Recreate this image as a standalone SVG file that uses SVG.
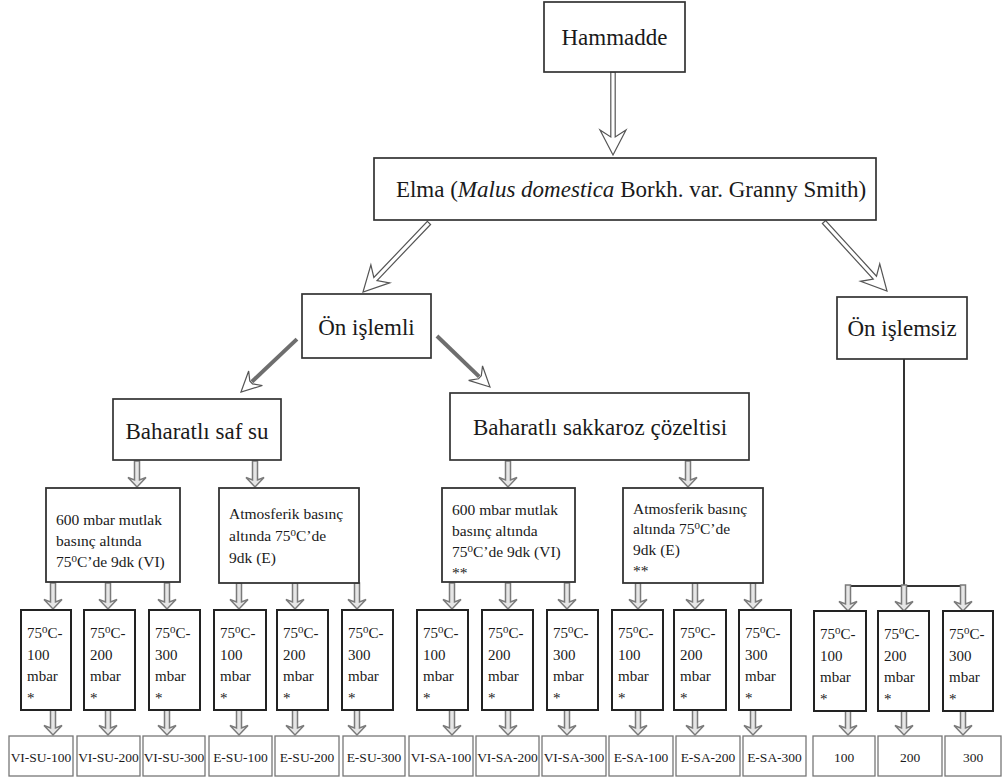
<svg xmlns="http://www.w3.org/2000/svg" xmlns:xlink="http://www.w3.org/1999/xlink" width="1003" height="782" viewBox="0 0 1003 782">
<style>
text{font-family:"Liberation Serif","Times New Roman",serif;fill:#1a1a1a}
.big{font-size:23px;text-anchor:middle}
.mid{font-size:15.5px}
.sm{font-size:15px}
.lab{font-size:13.5px;text-anchor:middle}
.sup{font-size:13.5px;font-family:"Liberation Serif","DejaVu Serif",serif}
.b1{fill:#fff;stroke:#333;stroke-width:1.7}
.b3{fill:#fff;stroke:#333;stroke-width:1.8}
.b4{fill:#fff;stroke:#222;stroke-width:2}
.b5{fill:#fff;stroke:#777;stroke-width:1.3}
.ah{fill:#fff;stroke:#555;stroke-width:1.2;stroke-linejoin:miter}
.sh{stroke:#6e6e6e;stroke-width:4;fill:none}
.ln{stroke:#333;stroke-width:2;fill:none}
.sa{fill:#e6e6e6;stroke:#7a7a7a;stroke-width:1.5}
</style>
<defs>
<path id="sa" class="sa" d="M-2.5,-26 H2.5 V-7 L9,-9.5 L0,0 L-9,-9.5 L-2.5,-7 Z"/>
<path id="hd" class="ah" d="M0,0 L-10,-20 L-2,-14 L2,-14 L10,-20 Z"/>
</defs>

<g id="connectors">
<path class="ah" transform="translate(613,155)" d="M-2.2,-83 H2.2 V-18 L13,-25 L0,0 L-13,-25 L-2.2,-18 Z"/>
<path class="ah" transform="translate(363,292) rotate(43.7)" d="M-2.2,-95.5 H2.2 V-18 L13,-25 L0,0 L-13,-25 L-2.2,-18 Z"/>
<path class="ah" transform="translate(887,291) rotate(-42.4)" d="M-2.2,-93.4 H2.2 V-18 L13,-25 L0,0 L-13,-25 L-2.2,-18 Z"/>
<g transform="translate(241,392) rotate(46.6)"><line class="sh" x1="0" y1="-77" x2="0" y2="-15"/><use xlink:href="#hd"/></g>
<g transform="translate(490,387) rotate(-46.1)"><line class="sh" x1="0" y1="-73.6" x2="0" y2="-15"/><use xlink:href="#hd"/></g>
<use xlink:href="#sa" x="137" y="487"/>
<use xlink:href="#sa" x="255" y="487"/>
<use xlink:href="#sa" x="508" y="487"/>
<use xlink:href="#sa" x="688" y="487"/>
<use xlink:href="#sa" x="53" y="609"/>
<use xlink:href="#sa" x="108" y="609"/>
<use xlink:href="#sa" x="167" y="609"/>
<use xlink:href="#sa" x="239" y="609"/>
<use xlink:href="#sa" x="295" y="609"/>
<use xlink:href="#sa" x="357" y="609"/>
<use xlink:href="#sa" x="452" y="609"/>
<use xlink:href="#sa" x="508" y="609"/>
<use xlink:href="#sa" x="567" y="609"/>
<use xlink:href="#sa" x="638" y="609"/>
<use xlink:href="#sa" x="695" y="609"/>
<use xlink:href="#sa" x="753" y="609"/>
<line class="ln" x1="904" y1="359" x2="904" y2="586"/>
<line class="ln" x1="846" y1="586" x2="964" y2="586"/>
<use xlink:href="#sa" x="848" y="611"/>
<use xlink:href="#sa" x="904" y="611"/>
<use xlink:href="#sa" x="963" y="611"/>
<use xlink:href="#sa" x="53" y="735"/>
<use xlink:href="#sa" x="108" y="735"/>
<use xlink:href="#sa" x="167" y="735"/>
<use xlink:href="#sa" x="239" y="735"/>
<use xlink:href="#sa" x="295" y="735"/>
<use xlink:href="#sa" x="357" y="735"/>
<use xlink:href="#sa" x="452" y="735"/>
<use xlink:href="#sa" x="508" y="735"/>
<use xlink:href="#sa" x="567" y="735"/>
<use xlink:href="#sa" x="638" y="735"/>
<use xlink:href="#sa" x="695" y="735"/>
<use xlink:href="#sa" x="753" y="735"/>
<use xlink:href="#sa" x="848" y="735"/>
<use xlink:href="#sa" x="904" y="735"/>
<use xlink:href="#sa" x="963" y="735"/>
</g>

<g id="hammadde"><rect class="b1" x="544" y="2" width="141" height="70"/><text class="big" x="614.5" y="45">Hammadde</text></g>
<g id="elma"><rect class="b1" x="374" y="158" width="502" height="62"/><text class="big" x="631" y="197">Elma (<tspan font-style="italic">Malus domestica</tspan> Borkh. var. Granny Smith)</text></g>
<g id="on-islemli"><rect class="b1" x="302" y="294" width="129" height="64"/><text class="big" x="366.5" y="335">Ön işlemli</text></g>
<g id="on-islemsiz"><rect class="b1" x="837" y="297" width="130" height="62"/><text class="big" x="902" y="336">Ön işlemsiz</text></g>
<g id="saf-su"><rect class="b1" x="113" y="399" width="168" height="61"/><text class="big" x="197" y="439">Baharatlı saf su</text></g>
<g id="sakkaroz"><rect class="b1" x="450" y="393" width="299" height="67"/><text class="big" x="600" y="435">Baharatlı sakkaroz çözeltisi</text></g>

<g id="su-vi"><rect class="b3" x="46" y="488" width="134" height="94"/>
<text class="mid"><tspan x="56" y="525">600 mbar mutlak</tspan><tspan x="56" y="546">basınç altında</tspan><tspan x="56" y="567">75<tspan class="sup">⁰</tspan>C’de 9dk (VI)</tspan></text></g>
<g id="su-e"><rect class="b3" x="219" y="488" width="140" height="95"/>
<text class="mid"><tspan x="229" y="519">Atmosferik basınç</tspan><tspan x="229" y="541">altında 75<tspan class="sup">⁰</tspan>C’de</tspan><tspan x="229" y="563">9dk (E)</tspan></text></g>
<g id="sa-vi"><rect class="b3" x="442" y="488" width="133" height="94"/>
<text class="mid"><tspan x="452" y="515">600 mbar mutlak</tspan><tspan x="452" y="536">basınç altında</tspan><tspan x="452" y="557">75<tspan class="sup">⁰</tspan>C’de 9dk (VI)</tspan><tspan x="452" y="578">**</tspan></text></g>
<g id="sa-e"><rect class="b3" x="623" y="488" width="140" height="95"/>
<text class="mid"><tspan x="633" y="514">Atmosferik basınç</tspan><tspan x="633" y="534">altında 75<tspan class="sup">⁰</tspan>C’de</tspan><tspan x="633" y="555">9dk (E)</tspan><tspan x="633" y="576">**</tspan></text></g>

<g id="t-su-vi-100"><rect class="b4" x="21" y="610" width="50" height="100"/><text class="sm"><tspan x="27" y="638">75<tspan class="sup">⁰</tspan>C-</tspan><tspan x="27" y="660">100</tspan><tspan x="27" y="681">mbar</tspan><tspan x="27" y="703">*</tspan></text></g>
<g id="t-su-vi-200"><rect class="b4" x="84" y="610" width="51" height="100"/><text class="sm"><tspan x="90" y="638">75<tspan class="sup">⁰</tspan>C-</tspan><tspan x="90" y="660">200</tspan><tspan x="90" y="681">mbar</tspan><tspan x="90" y="703">*</tspan></text></g>
<g id="t-su-vi-300"><rect class="b4" x="149" y="610" width="51" height="100"/><text class="sm"><tspan x="155" y="638">75<tspan class="sup">⁰</tspan>C-</tspan><tspan x="155" y="660">300</tspan><tspan x="155" y="681">mbar</tspan><tspan x="155" y="703">*</tspan></text></g>
<g id="t-su-e-100"><rect class="b4" x="214" y="610" width="52" height="100"/><text class="sm"><tspan x="220" y="638">75<tspan class="sup">⁰</tspan>C-</tspan><tspan x="220" y="660">100</tspan><tspan x="220" y="681">mbar</tspan><tspan x="220" y="703">*</tspan></text></g>
<g id="t-su-e-200"><rect class="b4" x="277" y="610" width="51" height="100"/><text class="sm"><tspan x="283" y="638">75<tspan class="sup">⁰</tspan>C-</tspan><tspan x="283" y="660">200</tspan><tspan x="283" y="681">mbar</tspan><tspan x="283" y="703">*</tspan></text></g>
<g id="t-su-e-300"><rect class="b4" x="342" y="610" width="51" height="100"/><text class="sm"><tspan x="348" y="638">75<tspan class="sup">⁰</tspan>C-</tspan><tspan x="348" y="660">300</tspan><tspan x="348" y="681">mbar</tspan><tspan x="348" y="703">*</tspan></text></g>
<g id="t-sa-vi-100"><rect class="b4" x="417" y="610" width="51" height="100"/><text class="sm"><tspan x="423" y="638">75<tspan class="sup">⁰</tspan>C-</tspan><tspan x="423" y="660">100</tspan><tspan x="423" y="681">mbar</tspan><tspan x="423" y="703">*</tspan></text></g>
<g id="t-sa-vi-200"><rect class="b4" x="482" y="610" width="51" height="100"/><text class="sm"><tspan x="488" y="638">75<tspan class="sup">⁰</tspan>C-</tspan><tspan x="488" y="660">200</tspan><tspan x="488" y="681">mbar</tspan><tspan x="488" y="703">*</tspan></text></g>
<g id="t-sa-vi-300"><rect class="b4" x="547" y="610" width="51" height="100"/><text class="sm"><tspan x="553" y="638">75<tspan class="sup">⁰</tspan>C-</tspan><tspan x="553" y="660">300</tspan><tspan x="553" y="681">mbar</tspan><tspan x="553" y="703">*</tspan></text></g>
<g id="t-sa-e-100"><rect class="b4" x="612" y="610" width="51" height="100"/><text class="sm"><tspan x="618" y="638">75<tspan class="sup">⁰</tspan>C-</tspan><tspan x="618" y="660">100</tspan><tspan x="618" y="681">mbar</tspan><tspan x="618" y="703">*</tspan></text></g>
<g id="t-sa-e-200"><rect class="b4" x="674" y="610" width="52" height="100"/><text class="sm"><tspan x="680" y="638">75<tspan class="sup">⁰</tspan>C-</tspan><tspan x="680" y="660">200</tspan><tspan x="680" y="681">mbar</tspan><tspan x="680" y="703">*</tspan></text></g>
<g id="t-sa-e-300"><rect class="b4" x="739" y="610" width="52" height="100"/><text class="sm"><tspan x="745" y="638">75<tspan class="sup">⁰</tspan>C-</tspan><tspan x="745" y="660">300</tspan><tspan x="745" y="681">mbar</tspan><tspan x="745" y="703">*</tspan></text></g>
<g id="t-n-100"><rect class="b4" x="814" y="611" width="52" height="100"/><text class="sm"><tspan x="820" y="639">75<tspan class="sup">⁰</tspan>C-</tspan><tspan x="820" y="661">100</tspan><tspan x="820" y="682">mbar</tspan><tspan x="820" y="704">*</tspan></text></g>
<g id="t-n-200"><rect class="b4" x="878" y="611" width="51" height="100"/><text class="sm"><tspan x="884" y="639">75<tspan class="sup">⁰</tspan>C-</tspan><tspan x="884" y="661">200</tspan><tspan x="884" y="682">mbar</tspan><tspan x="884" y="704">*</tspan></text></g>
<g id="t-n-300"><rect class="b4" x="943" y="611" width="50" height="100"/><text class="sm"><tspan x="949" y="639">75<tspan class="sup">⁰</tspan>C-</tspan><tspan x="949" y="661">300</tspan><tspan x="949" y="682">mbar</tspan><tspan x="949" y="704">*</tspan></text></g>

<g id="r-vi-su-100"><rect class="b5" x="9" y="736" width="64" height="40"/><text class="lab" x="41" y="762">VI-SU-100</text></g>
<g id="r-vi-su-200"><rect class="b5" x="77" y="736" width="63" height="40"/><text class="lab" x="108.5" y="762">VI-SU-200</text></g>
<g id="r-vi-su-300"><rect class="b5" x="143" y="736" width="62" height="40"/><text class="lab" x="174" y="762">VI-SU-300</text></g>
<g id="r-e-su-100"><rect class="b5" x="209" y="736" width="63" height="40"/><text class="lab" x="240.5" y="762">E-SU-100</text></g>
<g id="r-e-su-200"><rect class="b5" x="275" y="736" width="64" height="40"/><text class="lab" x="307" y="762">E-SU-200</text></g>
<g id="r-e-su-300"><rect class="b5" x="343" y="736" width="62" height="40"/><text class="lab" x="374" y="762">E-SU-300</text></g>
<g id="r-vi-sa-100"><rect class="b5" x="409" y="736" width="64" height="40"/><text class="lab" x="441" y="762">VI-SA-100</text></g>
<g id="r-vi-sa-200"><rect class="b5" x="476" y="736" width="63" height="40"/><text class="lab" x="507.5" y="762">VI-SA-200</text></g>
<g id="r-vi-sa-300"><rect class="b5" x="542" y="736" width="64" height="40"/><text class="lab" x="574" y="762">VI-SA-300</text></g>
<g id="r-e-sa-100"><rect class="b5" x="609" y="736" width="64" height="40"/><text class="lab" x="641" y="762">E-SA-100</text></g>
<g id="r-e-sa-200"><rect class="b5" x="676" y="736" width="64" height="40"/><text class="lab" x="708" y="762">E-SA-200</text></g>
<g id="r-e-sa-300"><rect class="b5" x="743" y="736" width="63" height="40"/><text class="lab" x="774.5" y="762">E-SA-300</text></g>
<g id="r-100"><rect class="b5" x="813" y="736" width="62" height="40"/><text class="lab" x="844" y="762">100</text></g>
<g id="r-200"><rect class="b5" x="878" y="736" width="64" height="40"/><text class="lab" x="910" y="762">200</text></g>
<g id="r-300"><rect class="b5" x="945" y="736" width="56" height="40"/><text class="lab" x="973" y="762">300</text></g>
</svg>
